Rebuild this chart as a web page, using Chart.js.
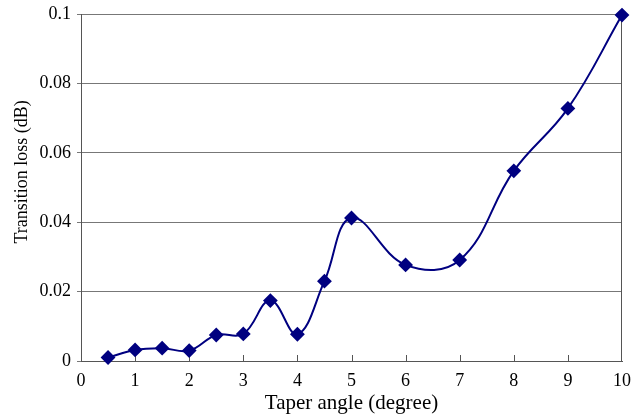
<!DOCTYPE html>
<html><head><meta charset="utf-8">
<script src="https://cdn.jsdelivr.net/npm/chart.js@4/dist/chart.umd.min.js"></script>
<style>html,body{margin:0;padding:0;background:#fff}#wrap{width:632px;height:417px}</style>
</head><body><div id="wrap"><canvas id="c"></canvas></div>
<script>
const taperAngle = [0.5, 1, 1.5, 2, 2.5, 3, 3.5, 4, 4.5, 5, 6, 7, 8, 9, 10];
const transitionLoss = [0.001, 0.0032, 0.0037, 0.003, 0.0075, 0.0078, 0.0174, 0.0077, 0.023, 0.0412, 0.0277, 0.0291, 0.0548, 0.0728, 0.0997];
const xTitle = 'Taper angle (degree)';
const yTitle = 'Transition loss (dB)';

const pts = taperAngle.map((x, i) => ({x, y: transitionLoss[i]}));
const serif = "'Liberation Serif', 'Times New Roman', serif";

const frame = {
  id: 'frame',
  beforeDatasetsDraw(chart) {
    const {ctx, chartArea: a, scales: {x}} = chart;
    ctx.save();
    ctx.strokeStyle = '#555';
    ctx.lineWidth = 1;
    ctx.beginPath();
    for (let v = 1; v <= 9; v++) {
      const px = Math.round(x.getPixelForValue(v)) + 0.5;
      ctx.moveTo(px, a.bottom);
      ctx.lineTo(px, a.bottom - 6);
    }
    const rx = Math.round(a.right) - 0.5;
    ctx.moveTo(rx, a.top);
    ctx.lineTo(rx, a.bottom);
    ctx.stroke();
    // y-axis title, placed like the reference (slightly above the axis centre)
    ctx.fillStyle = '#000';
    ctx.font = "18px " + serif;
    ctx.textAlign = 'center';
    ctx.textBaseline = 'middle';
    ctx.translate(22, a.top + (a.bottom - a.top) * 0.455);
    ctx.rotate(-Math.PI / 2);
    ctx.fillText(yTitle, 0, 0);
    ctx.restore();
  }
};

new Chart(document.getElementById('c'), {
  type: 'scatter',
  data: { datasets: [{
    data: pts,
    showLine: true,
    clip: false,
    borderColor: '#000080',
    backgroundColor: '#000080',
    borderWidth: 2,
    tension: 0.4,
    pointStyle: 'rectRot',
    pointRadius: 6,
    pointHoverRadius: 6
  }]},
  options: {
    responsive: true, maintainAspectRatio: false, animation: false,
    layout: { padding: { top: 14, right: 10, left: 0, bottom: 0 } },
    plugins: { legend: { display: false }, tooltip: { enabled: false } },
    scales: {
      x: {
        type: 'linear', min: 0, max: 10,
        afterFit(s) { s.height = 56; s.paddingRight = 0; s.paddingLeft = 0; },
        ticks: { stepSize: 1, color: '#000', padding: 1, maxRotation: 0, font: { family: serif, size: 18 } },
        grid: { display: false },
        border: { display: true, color: '#555', width: 1 },
        title: { display: true, text: xTitle, color: '#000', padding: { top: 0, bottom: 1 }, font: { family: serif, size: 21 } }
      },
      y: {
        min: 0, max: 0.1,
        afterFit(s) { s.width = 81; s.paddingTop = 0; s.paddingBottom = 0; },
        ticks: { stepSize: 0.02, color: '#000', padding: 6, font: { family: serif, size: 18 },
          callback: v => String(parseFloat(v.toFixed(2))) },
        grid: { color: '#777', lineWidth: 1, tickLength: 4 },
        border: { display: true, color: '#555', width: 1 },
        title: { display: false }
      }
    }
  },
  plugins: [frame]
});
</script></body></html>
